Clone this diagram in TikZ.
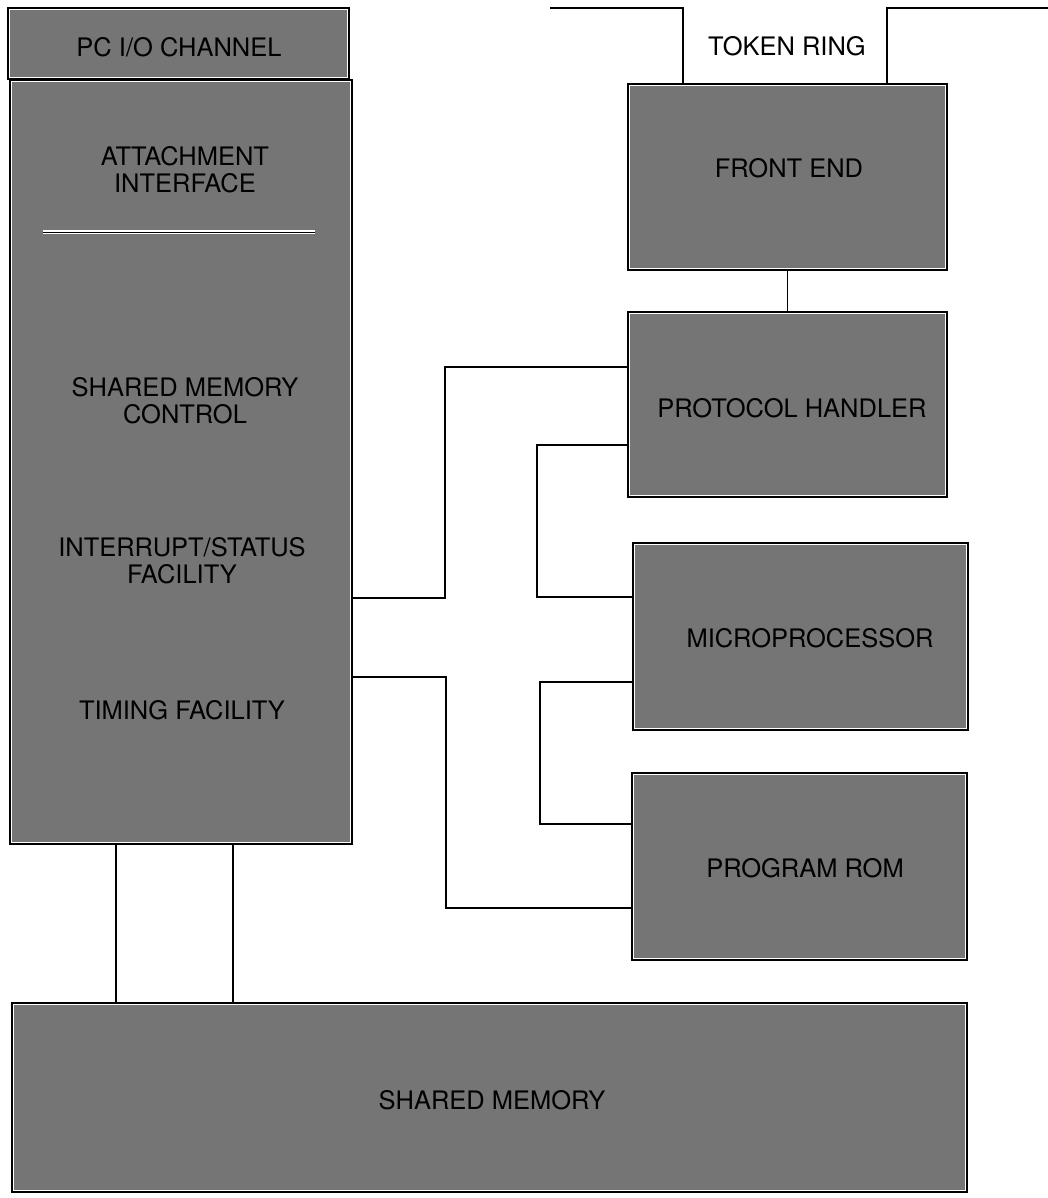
\documentclass[tikz,border=0pt]{standalone}
\usepackage{fontspec}
\setmainfont{TeX Gyre Heros}
\begin{document}
\begin{tikzpicture}[x=0.02cm,y=-0.02cm,
  blk/.style={draw,line width=1.2pt,fill=white,inner sep=0pt,
    path picture={\fill[black!54] ([shift={(1.1pt,-1.1pt)}]path picture bounding box.north west)
      rectangle ([shift={(-1.1pt,1.1pt)}]path picture bounding box.south east);}},
  lbl/.style={font=\fontsize{14.5}{15.2}\selectfont,align=center},
  wire/.style={line width=0.8pt}]
\useasboundingbox (0,0) rectangle (1048,1198);
% blocks
\node[blk,minimum width=6.82cm,minimum height=1.42cm] (chan) at (178.5,43.5) {};
\node[blk,minimum width=6.84cm,minimum height=15.28cm] (attach) at (181,462) {};
\node[blk,minimum width=6.38cm,minimum height=3.72cm] (front) at (787.5,177) {};
\node[blk,minimum width=6.38cm,minimum height=3.70cm] (proto) at (787.5,404.5) {};
\node[blk,minimum width=6.70cm,minimum height=3.74cm] (micro) at (800.5,636.5) {};
\node[blk,minimum width=6.70cm,minimum height=3.74cm] (rom) at (799.5,866.5) {};
\node[blk,minimum width=19.10cm,minimum height=3.78cm] (shmem) at (489.5,1097.5) {};
% texts
\node[lbl] (chantxt) at (179,47) {PC I/O CHANNEL};
\node[lbl] (attif) at (185,170) {ATTACHMENT\\INTERFACE};
\node[lbl] (smc) at (185,401) {SHARED MEMORY\\CONTROL};
\node[lbl] (isf) at (182,561) {INTERRUPT/STATUS\\FACILITY};
\node[lbl] (tim) at (182,710) {TIMING FACILITY};
\node[lbl] (fronttxt) at (789,168) {FRONT END};
\node[lbl] (prototxt) at (792,408) {PROTOCOL HANDLER};
\node[lbl] (microtxt) at (810,638) {MICROPROCESSOR};
\node[lbl] (romtxt) at (805,868) {PROGRAM ROM};
\node[lbl] (shmemtxt) at (492,1100) {SHARED MEMORY};
\coordinate (sepl) at (43,232);
\coordinate (sepr) at (315,232);
\draw[line width=0.5pt,preaction={draw=white,line width=2.2pt}] (sepl) -- (sepr);
% ring
\node[lbl] (ring) at (787,46) {TOKEN RING};
\coordinate (rl) at (550,8);
\coordinate (t1) at (683,8);
\coordinate (rr) at (1048,8);
\coordinate (t2) at (887,8);
\draw[wire] (rl) -- (t1) -- (front.north -| t1);
\draw[wire] (rr) -- (t2) -- (front.north -| t2);
\draw[wire] (front) -- (proto);
% buses
\coordinate (p1) at (445,598);
\coordinate (p2) at (445,367);
\draw[wire] (attach.east |- p1) -- (p1) -- (p2) -- (proto.west |- p2);
\coordinate (q1) at (446,677);
\coordinate (q2) at (446,908);
\draw[wire] (attach.east |- q1) -- (q1) -- (q2) -- (rom.west |- q2);
\coordinate (r1) at (537,445);
\coordinate (r2) at (537,597);
\draw[wire] (proto.west |- r1) -- (r1) -- (r2) -- (micro.west |- r2);
\coordinate (s1) at (540,682);
\coordinate (s2) at (540,824);
\draw[wire] (micro.west |- s1) -- (s1) -- (s2) -- (rom.west |- s2);
\coordinate (m1) at (116,0);
\coordinate (m2) at (233,0);
\draw[wire] (attach.south -| m1) -- (shmem.north -| m1);
\draw[wire] (attach.south -| m2) -- (shmem.north -| m2);
\end{tikzpicture}
\end{document}
